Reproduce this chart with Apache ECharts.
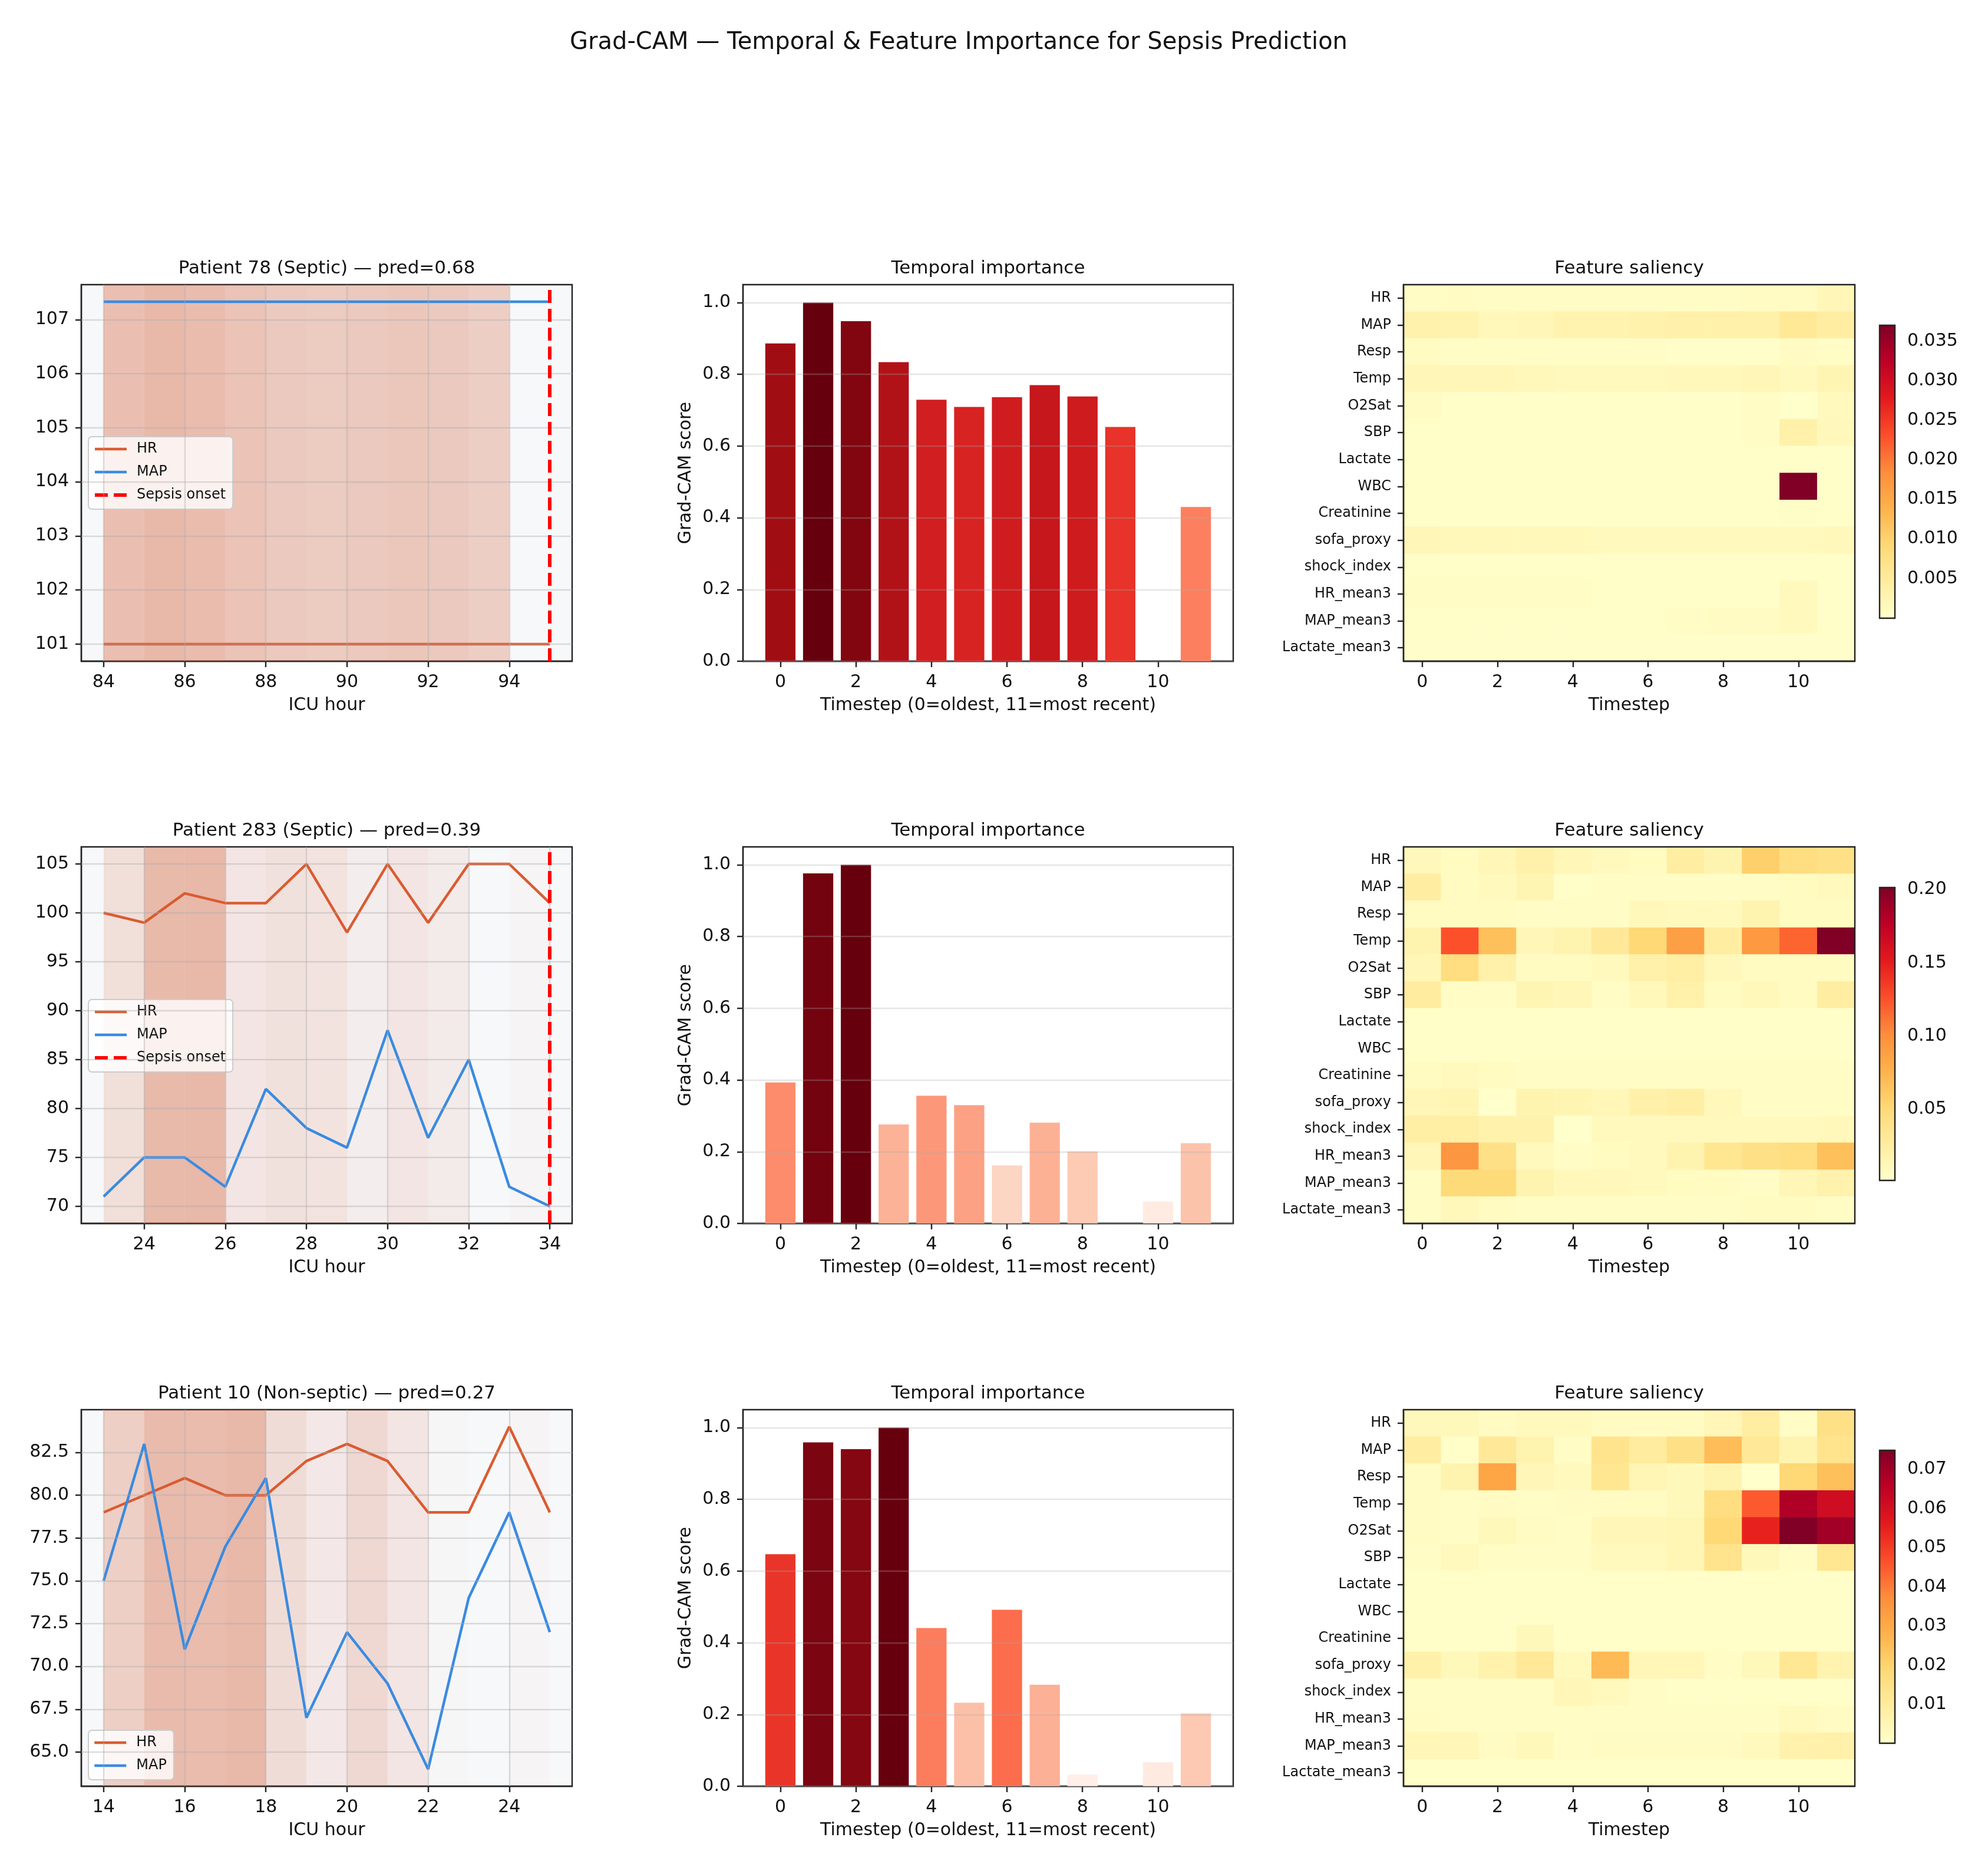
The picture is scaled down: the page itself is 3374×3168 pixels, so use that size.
<!DOCTYPE html>
<html>
<head>
<meta charset="utf-8">
<script src="https://cdn.jsdelivr.net/npm/echarts@6/dist/echarts.min.js"></script>
<style>
  html, body { margin: 0; background: #fff; }
  #chart { width: 3374px; height: 3168px; }
</style>
</head>
<body>
<div id="chart"></div>
<script>
// ---- data ----
const features = ['HR', 'MAP', 'Resp', 'Temp', 'O2Sat', 'SBP', 'Lactate', 'WBC', 'Creatinine',
  'sofa_proxy', 'shock_index', 'HR_mean3', 'MAP_mean3', 'Lactate_mean3'];
const timesteps = [0, 1, 2, 3, 4, 5, 6, 7, 8, 9, 10, 11];
const timestepTicks = [0, 2, 4, 6, 8, 10];
const importanceTicks = [0, 0.2, 0.4, 0.6, 0.8, 1.0];

// Patient 78
const hours78 = [84, 85, 86, 87, 88, 89, 90, 91, 92, 93, 94, 95];
const hr78 = [101, 101, 101, 101, 101, 101, 101, 101, 101, 101, 101, 101];
const map78 = [107.33, 107.33, 107.33, 107.33, 107.33, 107.33, 107.33, 107.33, 107.33, 107.33, 107.33, 107.33];
const imp78 = [0.886, 1.0, 0.948, 0.834, 0.729, 0.709, 0.736, 0.770, 0.738, 0.653, 0, 0.430];
const hourTicks78 = [84, 86, 88, 90, 92, 94];
const vitalTicks78 = [101, 102, 103, 104, 105, 106, 107];
const salTicks78 = [0.005, 0.010, 0.015, 0.020, 0.025, 0.030, 0.035];
const salRange78 = [0, 0.037];
const sal78 = [
  [0.0007, 0.0011, 0.0007, 0.0007, 0.0007, 0.0007, 0.0007, 0.0007, 0.0007, 0.0011, 0.0011, 0.0022],
  [0.0033, 0.0030, 0.0019, 0.0022, 0.0030, 0.0030, 0.0033, 0.0037, 0.0037, 0.0037, 0.0056, 0.0044],
  [0.0011, 0.0007, 0.0007, 0.0007, 0.0007, 0.0007, 0.0007, 0.0004, 0.0004, 0.0004, 0.0011, 0.0007],
  [0.0022, 0.0022, 0.0022, 0.0019, 0.0015, 0.0015, 0.0015, 0.0019, 0.0019, 0.0022, 0.0015, 0.0026],
  [0.0011, 0.0004, 0.0004, 0.0004, 0.0004, 0.0004, 0.0004, 0.0004, 0.0004, 0.0007, 0.0001, 0.0015],
  [0.0004, 0.0004, 0.0004, 0.0004, 0.0004, 0.0004, 0.0004, 0.0004, 0.0004, 0.0007, 0.0037, 0.0019],
  [0.0003, 0.0003, 0.0003, 0.0003, 0.0003, 0.0003, 0.0003, 0.0003, 0.0003, 0.0003, 0.0003, 0.0003],
  [0.0003, 0.0003, 0.0003, 0.0003, 0.0003, 0.0003, 0.0003, 0.0003, 0.0003, 0.0003, 0.0370, 0.0003],
  [0.0003, 0.0003, 0.0003, 0.0003, 0.0003, 0.0003, 0.0003, 0.0003, 0.0003, 0.0003, 0.0005, 0.0003],
  [0.0022, 0.0019, 0.0019, 0.0019, 0.0019, 0.0015, 0.0015, 0.0015, 0.0015, 0.0015, 0.0015, 0.0019],
  [0.0003, 0.0003, 0.0003, 0.0003, 0.0003, 0.0003, 0.0003, 0.0003, 0.0003, 0.0003, 0.0003, 0.0003],
  [0.0007, 0.0007, 0.0007, 0.0007, 0.0007, 0.0004, 0.0004, 0.0004, 0.0004, 0.0004, 0.0015, 0.0004],
  [0.0004, 0.0004, 0.0004, 0.0004, 0.0004, 0.0004, 0.0004, 0.0007, 0.0011, 0.0011, 0.0015, 0.0004],
  [0.0002, 0.0002, 0.0002, 0.0002, 0.0002, 0.0002, 0.0002, 0.0002, 0.0002, 0.0002, 0.0002, 0.0002]
];

// Patient 283
const hours283 = [23, 24, 25, 26, 27, 28, 29, 30, 31, 32, 33, 34];
const hr283 = [100, 99, 102, 101, 101, 105, 98, 105, 99, 105, 105, 101];
const map283 = [71, 75, 75, 72, 82, 78, 76, 88, 77, 85, 72, 70];
const imp283 = [0.393, 0.976, 1.0, 0.276, 0.356, 0.330, 0.162, 0.281, 0.201, 0, 0.061, 0.224];
const hourTicks283 = [24, 26, 28, 30, 32, 34];
const vitalTicks283 = [70, 75, 80, 85, 90, 95, 100, 105];
const salTicks283 = [0.05, 0.10, 0.15, 0.20];
const salRange283 = [0.0015, 0.2014];
const sal283 = [
  [0.0115, 0.0075, 0.0135, 0.0215, 0.0135, 0.0095, 0.0075, 0.0255, 0.0175, 0.0575, 0.0455, 0.0415],
  [0.0255, 0.0075, 0.0095, 0.0155, 0.0035, 0.0055, 0.0055, 0.0055, 0.0055, 0.0055, 0.0075, 0.0095],
  [0.0075, 0.0075, 0.0075, 0.0055, 0.0055, 0.0055, 0.0115, 0.0095, 0.0095, 0.0175, 0.0075, 0.0075],
  [0.0175, 0.1255, 0.0675, 0.0135, 0.0175, 0.0315, 0.0515, 0.0895, 0.0255, 0.0935, 0.1175, 0.2014],
  [0.0135, 0.0455, 0.0215, 0.0075, 0.0075, 0.0095, 0.0215, 0.0235, 0.0115, 0.0075, 0.0075, 0.0075],
  [0.0275, 0.0055, 0.0055, 0.0155, 0.0135, 0.0055, 0.0115, 0.0215, 0.0075, 0.0115, 0.0075, 0.0255],
  [0.0035, 0.0035, 0.0035, 0.0035, 0.0035, 0.0035, 0.0035, 0.0035, 0.0035, 0.0035, 0.0035, 0.0035],
  [0.0035, 0.0035, 0.0035, 0.0035, 0.0035, 0.0035, 0.0035, 0.0035, 0.0035, 0.0035, 0.0035, 0.0035],
  [0.0075, 0.0095, 0.0075, 0.0055, 0.0055, 0.0055, 0.0055, 0.0055, 0.0055, 0.0055, 0.0055, 0.0055],
  [0.0135, 0.0155, 0.0015, 0.0175, 0.0155, 0.0135, 0.0215, 0.0235, 0.0115, 0.0055, 0.0055, 0.0055],
  [0.0235, 0.0235, 0.0195, 0.0195, 0.0015, 0.0095, 0.0095, 0.0095, 0.0095, 0.0095, 0.0095, 0.0115],
  [0.0135, 0.0955, 0.0415, 0.0095, 0.0055, 0.0075, 0.0095, 0.0175, 0.0355, 0.0415, 0.0455, 0.0675],
  [0.0055, 0.0495, 0.0495, 0.0175, 0.0115, 0.0115, 0.0095, 0.0075, 0.0075, 0.0055, 0.0135, 0.0195],
  [0.0055, 0.0115, 0.0075, 0.0055, 0.0055, 0.0055, 0.0055, 0.0055, 0.0055, 0.0075, 0.0075, 0.0055]
];

// Patient 10
const hours10 = [14, 15, 16, 17, 18, 19, 20, 21, 22, 23, 24, 25];
const hr10 = [79, 80, 81, 80, 80, 82, 83, 82, 79, 79, 84, 79];
const map10 = [75, 83, 71, 77, 81, 67, 72, 69, 64, 74, 79, 72];
const imp10 = [0.647, 0.959, 0.940, 1.0, 0.441, 0.233, 0.492, 0.283, 0.033, 0, 0.067, 0.203];
const hourTicks10 = [14, 16, 18, 20, 22, 24];
const vitalTicks10 = [65, 67.5, 70, 72.5, 75, 77.5, 80, 82.5];
const salTicks10 = [0.01, 0.02, 0.03, 0.04, 0.05, 0.06, 0.07];
const salRange10 = [0.0001, 0.0749];
const sal10 = [
  [0.0038, 0.0038, 0.0023, 0.0031, 0.0031, 0.0023, 0.0023, 0.0023, 0.0046, 0.0091, 0.0016, 0.0151],
  [0.0091, 0.0008, 0.0113, 0.0061, 0.0016, 0.0136, 0.0098, 0.0151, 0.0255, 0.0113, 0.0061, 0.0136],
  [0.0023, 0.0061, 0.0315, 0.0046, 0.0031, 0.0128, 0.0053, 0.0038, 0.0061, 0.0001, 0.0188, 0.0248],
  [0.0023, 0.0016, 0.0023, 0.0016, 0.0023, 0.0023, 0.0023, 0.0038, 0.0166, 0.0450, 0.0674, 0.0614],
  [0.0023, 0.0016, 0.0038, 0.0023, 0.0016, 0.0046, 0.0046, 0.0053, 0.0188, 0.0547, 0.0749, 0.0697],
  [0.0016, 0.0031, 0.0016, 0.0016, 0.0016, 0.0031, 0.0031, 0.0053, 0.0136, 0.0038, 0.0016, 0.0128],
  [0.0008, 0.0008, 0.0008, 0.0008, 0.0008, 0.0008, 0.0008, 0.0008, 0.0008, 0.0008, 0.0008, 0.0008],
  [0.0008, 0.0008, 0.0008, 0.0008, 0.0008, 0.0008, 0.0008, 0.0008, 0.0008, 0.0008, 0.0008, 0.0008],
  [0.0008, 0.0008, 0.0008, 0.0038, 0.0008, 0.0008, 0.0008, 0.0008, 0.0008, 0.0008, 0.0008, 0.0008],
  [0.0076, 0.0038, 0.0068, 0.0113, 0.0031, 0.0263, 0.0046, 0.0046, 0.0016, 0.0038, 0.0121, 0.0061],
  [0.0016, 0.0016, 0.0016, 0.0016, 0.0046, 0.0031, 0.0016, 0.0008, 0.0008, 0.0008, 0.0008, 0.0008],
  [0.0023, 0.0016, 0.0016, 0.0016, 0.0016, 0.0016, 0.0016, 0.0016, 0.0016, 0.0016, 0.0031, 0.0023],
  [0.0046, 0.0046, 0.0023, 0.0038, 0.0016, 0.0023, 0.0023, 0.0023, 0.0023, 0.0031, 0.0068, 0.0076],
  [0.0008, 0.0008, 0.0008, 0.0008, 0.0008, 0.0008, 0.0008, 0.0008, 0.0008, 0.0008, 0.0008, 0.0008]
];

const patients = [
  { title: 'Patient 78 (Septic) — pred=0.68', hours: hours78, hr: hr78, map: map78, imp: imp78,
    hourTicks: hourTicks78, vitalTicks: vitalTicks78, vitalDec: 0, onset: 95, legendTop: 258,
    sal: sal78, salRange: salRange78, salTicks: salTicks78, salDec: 3 },
  { title: 'Patient 283 (Septic) — pred=0.39', hours: hours283, hr: hr283, map: map283, imp: imp283,
    hourTicks: hourTicks283, vitalTicks: vitalTicks283, vitalDec: 0, onset: 34, legendTop: 259,
    sal: sal283, salRange: salRange283, salTicks: salTicks283, salDec: 2 },
  { title: 'Patient 10 (Non-septic) — pred=0.27', hours: hours10, hr: hr10, map: map10, imp: imp10,
    hourTicks: hourTicks10, vitalTicks: vitalTicks10, vitalDec: 1, onset: null, legendTop: 544,
    sal: sal10, salRange: salRange10, salTicks: salTicks10, salDec: 2 }
];

// ---- styling / layout ----
const FONT = 'DejaVu Sans';
const INK = '#111';
const SPINE = '#222';
const HR_COLOR = '#da5b30';
const MAP_COLOR = '#3a8be0';
const GRID_LINE = 'rgba(170,170,170,0.4)';
const REDS = ['#fff5f0', '#fee0d2', '#fcbba1', '#fc9272', '#fb6a4a', '#ef3b2c', '#cb181d', '#a50f15', '#67000d'];
const YLORRD = ['#ffffcc', '#ffeda0', '#fed976', '#feb24c', '#fd8d3c', '#fc4e2a', '#e31a1c', '#bd0026', '#800026'];

const ROW_TOP = [483, 1437, 2392];
const ROW_H = 639;
const LINE_L = 138, LINE_W = 833;
const BAR_L = 1261, BAR_W = 832;
const HEAT_L = 2382, HEAT_W = 766;
const CB_L = 3190, CB_W = 26, CB_OFF = 69, CB_H = 497;

function ticked(values, fmt, size) {
  return {
    axisLine: { show: true, onZero: false, lineStyle: { color: SPINE, width: 2.4 } },
    axisTick: { show: true, customValues: values, length: 10, lineStyle: { color: SPINE, width: 2.4 } },
    axisLabel: { customValues: values, formatter: fmt, fontSize: size || 30, color: INK, margin: 21, fontFamily: FONT },
    splitLine: { show: false }
  };
}
function axisName(text, gap) {
  return { name: text, nameLocation: 'middle', nameGap: gap,
    nameTextStyle: { fontSize: 30, color: INK, fontFamily: FONT } };
}
function gridLines(xs, ys, color) {
  return {
    silent: true, symbol: ['none', 'none'], label: { show: false },
    lineStyle: { color: color, width: 2.4, type: 'solid' }, emphasis: { disabled: true },
    data: xs.map(v => ({ xAxis: v })).concat(ys.map(v => ({ yAxis: v })))
  };
}

const grids = [], xAxes = [], yAxes = [], series = [], visualMaps = [], titles = [], legends = [], graphics = [];

titles.push({
  text: 'Grad-CAM — Temporal & Feature Importance for Sepsis Prediction',
  left: 1627, top: 53, textAlign: 'center', padding: 0,
  textStyle: { fontSize: 40, fontWeight: 'normal', color: INK, fontFamily: FONT }
});

patients.forEach((p, r) => {
  const top = ROW_TOP[r];
  const subTitle = (text, left, width) => titles.push({
    text: text, left: left + width / 2, top: top - 43, textAlign: 'center', padding: 0,
    textStyle: { fontSize: 31, fontWeight: 'normal', color: INK, fontFamily: FONT }
  });

  // ---- vitals with importance shading ----
  grids.push({ left: LINE_L, top: top, width: LINE_W, height: ROW_H, show: true,
    backgroundColor: '#f7f8fa', borderColor: SPINE, borderWidth: 2.4 });
  const g1 = grids.length - 1;
  const vals = p.hr.concat(p.map);
  const lo = Math.min(...vals), hi = Math.max(...vals), yPad = (hi - lo) * 0.05;
  const h0 = p.hours[0], h1 = p.hours[p.hours.length - 1], xPad = (h1 - h0) * 0.05;
  xAxes.push(Object.assign({ type: 'value', gridIndex: g1, min: h0 - xPad, max: h1 + xPad },
    ticked(p.hourTicks, v => String(v)), axisName('ICU hour', 60)));
  yAxes.push(Object.assign({ type: 'value', gridIndex: g1, min: lo - yPad, max: hi + yPad },
    ticked(p.vitalTicks, v => v.toFixed(p.vitalDec))));
  subTitle(p.title, LINE_L, LINE_W);

  const bands = [];
  for (let i = 0; i < p.hours.length - 1; i++) {
    bands.push([{ xAxis: p.hours[i], itemStyle: { color: 'rgba(211,96,57,' + (0.42 * p.imp[i]).toFixed(3) + ')' } },
      { xAxis: p.hours[i + 1] }]);
  }
  series.push({ type: 'line', name: 'bands' + r, xAxisIndex: g1, yAxisIndex: g1, data: [], z: 1, silent: true,
    markArea: { silent: true, emphasis: { disabled: true }, data: bands } });
  series.push({ type: 'line', name: 'grid' + r, xAxisIndex: g1, yAxisIndex: g1, data: [], z: 2, silent: true,
    markLine: gridLines(p.hourTicks, p.vitalTicks, GRID_LINE) });
  series.push({ type: 'line', name: 'HR', xAxisIndex: g1, yAxisIndex: g1, z: 3,
    data: p.hours.map((h, i) => [h, p.hr[i]]), symbol: 'none', showSymbol: false,
    lineStyle: { color: HR_COLOR, width: 4.5 }, itemStyle: { color: HR_COLOR } });
  series.push({ type: 'line', name: 'MAP', xAxisIndex: g1, yAxisIndex: g1, z: 3,
    data: p.hours.map((h, i) => [h, p.map[i]]), symbol: 'none', showSymbol: false,
    lineStyle: { color: MAP_COLOR, width: 4.5 }, itemStyle: { color: MAP_COLOR } });
  const legendNames = ['HR', 'MAP'];
  if (p.onset !== null) {
    const dash = { color: '#ff0000', width: 6, type: [22, 10] };
    series.push({ type: 'line', name: 'Sepsis onset', xAxisIndex: g1, yAxisIndex: g1, data: [], z: 4,
      symbol: 'none', lineStyle: dash, itemStyle: { color: '#ff0000' },
      markLine: { silent: true, symbol: ['none', 'none'], label: { show: false }, lineStyle: dash,
        emphasis: { disabled: true }, data: [{ xAxis: p.onset }] } });
    legendNames.push('Sepsis onset');
  }
  legends.push({
    data: legendNames, orient: 'vertical', left: 150, top: top + p.legendTop, selectedMode: false,
    itemWidth: 54, itemHeight: 24, itemGap: 15, padding: [9, 12, 12, 8],
    itemStyle: { opacity: 0 }, lineStyle: { width: 'inherit', type: 'inherit' },
    backgroundColor: 'rgba(255,255,255,0.8)', borderColor: '#cccccc', borderWidth: 2, borderRadius: 6,
    textStyle: { fontSize: 24, color: INK, fontFamily: FONT, padding: [0, 0, 0, 12] }
  });

  // ---- temporal importance bars ----
  grids.push({ left: BAR_L, top: top, width: BAR_W, height: ROW_H, show: true,
    backgroundColor: '#ffffff', borderColor: SPINE, borderWidth: 2.4 });
  const g2 = grids.length - 1;
  const t0 = timesteps[0] - 0.4, t1 = timesteps[timesteps.length - 1] + 0.4, tPad = (t1 - t0) * 0.05;
  const bMin = t0 - tPad, bMax = t1 + tPad;
  xAxes.push(Object.assign({ type: 'value', gridIndex: g2, min: bMin, max: bMax },
    ticked(timestepTicks, v => String(v)), axisName('Timestep (0=oldest, 11=most recent)', 60)));
  yAxes.push(Object.assign({ type: 'value', gridIndex: g2, min: 0, max: 1.05 },
    ticked(importanceTicks, v => v.toFixed(1)), axisName('Grad-CAM score', 82), { nameRotate: 90 }));
  subTitle('Temporal importance', BAR_L, BAR_W);
  series.push({ type: 'bar', name: 'importance' + r, xAxisIndex: g2, yAxisIndex: g2, z: 2,
    barWidth: 0.8 * BAR_W / (bMax - bMin), data: timesteps.map(t => [t, p.imp[t]]) });
  visualMaps.push({ type: 'continuous', show: false, seriesIndex: series.length - 1, dimension: 1,
    min: 0, max: 1, inRange: { color: REDS } });
  series.push({ type: 'line', name: 'bargrid' + r, xAxisIndex: g2, yAxisIndex: g2, data: [], z: 3, silent: true,
    markLine: gridLines([], importanceTicks, 'rgba(170,170,170,0.3)') });

  // ---- feature saliency heatmap ----
  grids.push({ left: HEAT_L, top: top, width: HEAT_W, height: ROW_H, show: true, z: 5,
    backgroundColor: 'transparent', borderColor: SPINE, borderWidth: 2.4 });
  const g3 = grids.length - 1;
  const catAxis = (data, size, labelInterval) => ({
    type: 'category', gridIndex: g3, data: data, boundaryGap: true, z: 6,
    axisLine: { show: true, lineStyle: { color: SPINE, width: 2.4 } },
    axisTick: { show: true, alignWithLabel: true, interval: labelInterval, length: 10, lineStyle: { color: SPINE, width: 2.4 } },
    axisLabel: { interval: labelInterval, fontSize: size, color: INK, margin: 21, fontFamily: FONT },
    splitLine: { show: false }
  });
  xAxes.push(Object.assign(catAxis(timesteps.map(String), 30, 1), axisName('Timestep', 60)));
  yAxes.push(Object.assign(catAxis(features, 24, 0), { inverse: true }));
  subTitle('Feature saliency', HEAT_L, HEAT_W);
  const cells = [];
  p.sal.forEach((row, fi) => row.forEach((v, ti) => cells.push([ti, fi, v])));
  series.push({ type: 'heatmap', name: 'saliency' + r, xAxisIndex: g3, yAxisIndex: g3, data: cells,
    silent: true, emphasis: { disabled: true }, itemStyle: { borderWidth: 0 } });
  visualMaps.push({ type: 'continuous', show: false, seriesIndex: series.length - 1, dimension: 2,
    min: p.salRange[0], max: p.salRange[1], inRange: { color: YLORRD } });

  // ---- colorbar ----
  const cbTop = top + CB_OFF;
  graphics.push({ type: 'rect', silent: true, z: 10,
    shape: { x: CB_L, y: cbTop, width: CB_W, height: CB_H },
    style: {
      fill: new echarts.graphic.LinearGradient(0, 1, 0, 0,
        YLORRD.map((c, i) => ({ offset: i / (YLORRD.length - 1), color: c }))),
      stroke: SPINE, lineWidth: 2.4
    } });
  grids.push({ left: CB_L, top: cbTop, width: CB_W, height: CB_H, show: false });
  const g4 = grids.length - 1;
  xAxes.push({ type: 'value', gridIndex: g4, show: false, min: 0, max: 1 });
  yAxes.push(Object.assign({ type: 'value', gridIndex: g4, position: 'right', min: p.salRange[0], max: p.salRange[1] },
    ticked(p.salTicks, v => v.toFixed(p.salDec)), { axisLine: { show: false } }));
});

const chart = echarts.init(document.getElementById('chart'), null, { renderer: 'canvas' });
chart.setOption({
  animation: false,
  backgroundColor: '#ffffff',
  textStyle: { fontFamily: FONT },
  title: titles,
  legend: legends,
  grid: grids,
  xAxis: xAxes,
  yAxis: yAxes,
  visualMap: visualMaps,
  series: series,
  graphic: graphics
});
</script>
</body>
</html>
